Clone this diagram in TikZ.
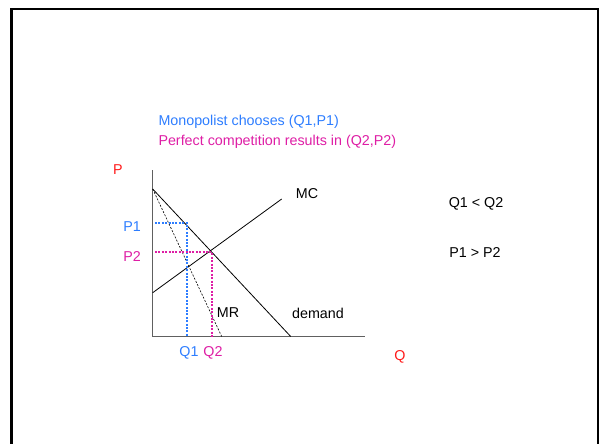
\documentclass[tikz,border=0pt]{standalone}
\usepackage{fontspec}
\setmainfont{Liberation Sans}
\usepackage{tikz}
\usetikzlibrary{positioning}
\definecolor{monoblue}{RGB}{45,125,255}
\definecolor{compmag}{RGB}{222,30,165}
\definecolor{axisred}{RGB}{255,25,25}

\begin{document}
\begin{tikzpicture}[
  x=1pt, y=-1pt,
  font=\fontsize{14.3}{17}\selectfont,
  axis/.style={draw=gray!75!black, line width=1.4pt},
  curve/.style={draw=black, line width=0.8pt},
  guide/.style={line width=2.2pt, dash pattern=on 2pt off 1.4pt},
  lbl/.style={inner sep=0pt}
]
\useasboundingbox (0,0) rectangle (600,444);
% slide frame
\draw[line width=2.5pt] (11.3,452) -- (11.3,8.8) -- (598,8.8) -- (598,452);

% heading
\node[lbl, anchor=base west, text=monoblue] (mono) at (158.3,125.7) {Monopolist chooses (Q1,P1)};
\node[lbl, anchor=base west, text=compmag] (comp) at (158.3,145.3) {Perfect competition results in (Q2,P2)};

% axes and curves
\coordinate (origin) at (152.7,336.5);
\coordinate (ytop) at (152.7,170);
\coordinate (xend) at (365,336.5);
\coordinate (dtop) at (152.7,189);
\coordinate (dend) at (290.7,336.5);
\coordinate (mcs) at (152.7,292.7);
\coordinate (mce) at (281.7,199);
\coordinate (mrend) at (221.7,336.5);
\draw[axis] (ytop) -- (origin) -- (xend);
\draw[curve] (dtop) -- (dend);
\draw[curve] (mcs) -- (mce);
\draw[black, line width=0.6pt, dash pattern=on 2pt off 1.5pt] (dtop) -- (mrend);

% monopoly and competitive points
\coordinate (p1) at (187.3,223.3);
\coordinate (q1) at (p1 |- origin);
\coordinate (p1y) at (origin |- p1);
\coordinate (p2) at (211.7,252.3);
\coordinate (q2) at (p2 |- origin);
\coordinate (p2y) at (origin |- p2);
\draw[guide, monoblue] ([xshift=2.3pt]p1y) -- (p1) -- (q1);
\draw[guide, compmag] ([xshift=2.3pt]p2y) -- (p2) -- (q2);

% labels
\node[lbl, text=axisred] (plab) at (118,170) {P};
\node[lbl, text=axisred] (qlab) at (400,357) {Q};
\node[lbl, text=monoblue] (p1lab) at (132,227) {P1};
\node[lbl, text=compmag] (p2lab) at (132,257) {P2};
\node[lbl, text=monoblue] (q1lab) at (189,353) {Q1};
\node[lbl, text=compmag] (q2lab) at (213,353) {Q2};
\node[lbl] (mclab) at (307,194) {MC};
\node[lbl] (mrlab) at (228,313) {MR};
\node[lbl] (dlab) at (318,313) {demand};
\node[lbl] (qcomp) at (476,204) {Q1 < Q2};
\node[lbl] (pcomp) at (475,253) {P1 > P2};
\end{tikzpicture}
\end{document}
